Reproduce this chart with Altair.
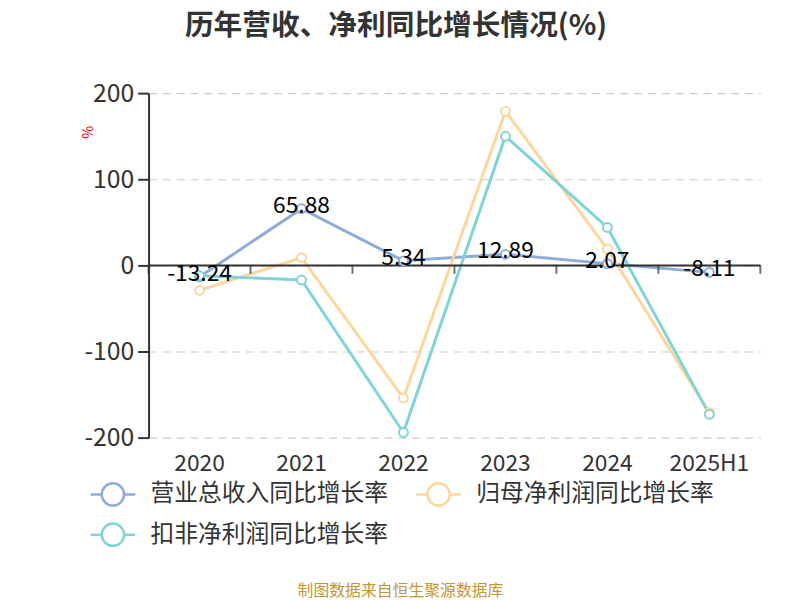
import altair as alt
import pandas as pd

years = ["2020", "2021", "2022", "2023", "2024", "2025H1"]
revenue = [-13.24, 65.88, 5.34, 12.89, 2.07, -8.11]
parent_profit = [-29, 9, -154, 179, 19, -171]
deducted_profit = [-12, -17, -194, 150, 44, -173]
series_names = ["营业总收入同比增长率", "归母净利润同比增长率", "扣非净利润同比增长率"]
colors = ["#8EABDB", "#FDD69B", "#80D3D6"]
y_ticks = [-200, -100, 0, 100, 200]

rows = []
for s_i, (name, vals) in enumerate(zip(series_names, [revenue, parent_profit, deducted_profit])):
    for y, v in zip(years, vals):
        rows.append({"year": y, "series": name, "value": v, "order": s_i})
df = pd.DataFrame(rows)
edges = pd.DataFrame({"year": years})
last_edge = pd.DataFrame({"year": [years[-1]]})
zero = pd.DataFrame({"value": [0]})

FONT = "Noto Sans CJK SC"
xscale = alt.Scale(type="band", domain=years, paddingInner=0, paddingOuter=0)

x_main = alt.X(
    "year:N", sort=years, scale=xscale, bandPosition=0.5,
    axis=alt.Axis(domain=False, ticks=False, grid=False, labelFontSize=23, labelColor="#333",
                  labelPadding=15, labelAngle=0, labelFont=FONT, bandPosition=0.5,
                  labelFlush=False, labelBound=False,
                  title="制图数据来自恒生聚源数据库", titleColor="#C8962E", titleFontSize=16,
                  titleFontWeight="normal", titleFont=FONT, titleX=254, titleY=146),
)
y_main = alt.Y(
    "value:Q", scale=alt.Scale(domain=[-200, 200], nice=False),
    axis=alt.Axis(values=y_ticks, grid=True, gridDash=[8, 6], gridColor="#cccccc", gridWidth=1.2,
                  domainColor="#333", domainWidth=2, tickColor="#333", tickSize=11, tickWidth=2,
                  labelFontSize=25, labelColor="#333", labelPadding=4, labelFont=FONT,
                  labelExpr="datum.value < 0 ? '-' + abs(datum.value) : '' + datum.value",
                  title="%", titleColor="red", titleFontSize=14, titleAngle=90,
                  titleFontWeight="normal", titleX=-71, titleY=39),
)

sym = "M-1,0L-0.5,0M0.5,0L1,0M-0.5,0A0.5,0.5,0,1,1,0.5,0A0.5,0.5,0,1,1,-0.5,0"
color = alt.Color(
    "series:N", sort=series_names,
    scale=alt.Scale(domain=series_names, range=colors),
    legend=alt.Legend(orient="none", legendX=-60, legendY=381, columns=2, direction="horizontal",
                      title=None, labelFontSize=24, labelColor="#333", labelFont=FONT, labelLimit=400,
                      symbolType=sym, symbolSize=2025, symbolStrokeWidth=2.5,
                      symbolFillColor="white", labelOffset=14, columnPadding=23, rowPadding=0),
)

base = alt.Chart(df)

x_plain = lambda bp: alt.X("year:N", sort=years, scale=xscale, bandPosition=bp)

lines = base.mark_line(strokeWidth=3).encode(x=x_main, y=y_main, color=color, detail="series:N",
                                              order="order:Q")
zero_line = alt.Chart(zero).mark_rule(color="#333", strokeWidth=2).encode(y="value:Q")
ticks = alt.Chart(edges).mark_tick(orient="vertical", size=9, thickness=2, color="#333", yOffset=4).encode(
    x=x_plain(0), y=alt.datum(0))
tick_end = alt.Chart(last_edge).mark_tick(orient="vertical", size=9, thickness=2, color="#333", yOffset=4).encode(
    x=x_plain(1), y=alt.datum(0))

points = base.mark_point(shape="circle", filled=False, fill="white", fillOpacity=1, opacity=1,
                         size=80, strokeWidth=2).encode(
    x=x_plain(0.5), y="value:Q",
    color=alt.Color("series:N", sort=series_names, legend=None))
labels = base.transform_filter(alt.datum.series == series_names[0]).transform_calculate(
    lbl="datum.value < 0 ? '-' + format(abs(datum.value), '.2f') : format(datum.value, '.2f')"
).mark_text(fontSize=23, color="black", dy=-3, font=FONT).encode(
    x=x_plain(0.5), y="value:Q", text="lbl:N")

chart = alt.layer(lines, zero_line, ticks, tick_end, points, labels).properties(
    width=618, height=348,
    autosize=alt.AutoSizeParams(type="none"),
    padding={"left": 142, "top": 83, "right": 32, "bottom": 161},
    title=alt.TitleParams(text="历年营收、净利同比增长情况(%)", fontSize=29, fontWeight="bold",
                          color="#333", anchor="middle", dx=-59, offset=41, font=FONT),
).configure(font=FONT).configure_view(stroke=None)

chart.save("out.html", embed_options={"renderer": "svg", "actions": False})
